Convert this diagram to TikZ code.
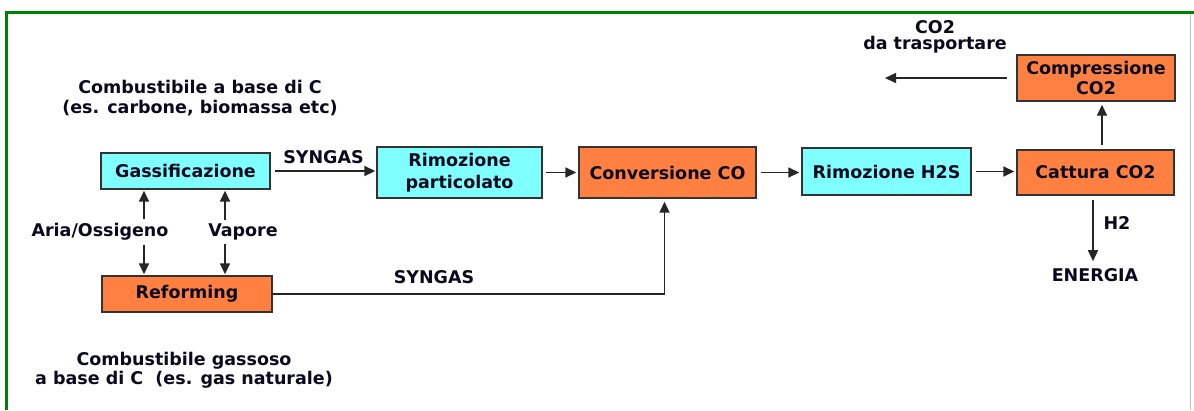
\documentclass[tikz,border=0pt]{standalone}
\usepackage{fontspec}
\setmainfont{DejaVu Sans}
\usetikzlibrary{arrows.meta,calc}
\definecolor{boxcyan}{RGB}{128,255,255}
\definecolor{boxorange}{RGB}{255,128,64}
\definecolor{framegreen}{RGB}{0,128,0}
\definecolor{txt}{RGB}{10,10,30}
\begin{document}
\begin{tikzpicture}[x=1pt,y=-1pt,
  font=\fontsize{17.5}{19.5}\selectfont\bfseries,
  every node/.style={text=txt},
  box/.style={draw=black!80,line width=1.4pt,inner sep=0pt,align=center},
  cbox/.style={box,fill=boxcyan},
  obox/.style={box,fill=boxorange},
  lbl/.style={inner sep=1pt,align=center},
  arr/.style={line width=1.6pt,draw=black!85,-{Triangle[length=11pt,width=10pt]}},
  darr/.style={line width=1.6pt,draw=black!85,{Triangle[length=11pt,width=10pt]}-{Triangle[length=11pt,width=10pt]}}]
\useasboundingbox (0,0) rectangle (1194,410);
\fill[white] (0,0) rectangle (1194,410);
% frame
\draw[framegreen,line width=3pt] (6.5,410) -- (6.5,12.5) -- (1194,12.5);
\draw[black!25,line width=1pt] (1190,14) -- (1190,410);
% boxes
\node[cbox,minimum width=169pt,minimum height=36pt] (g) at (185.5,171) {Gassificazione};
\node[obox,minimum width=170pt,minimum height=36pt] (r) at (187,294) {Reforming};
\node[cbox,minimum width=165pt,minimum height=51pt] (rp) at (459.5,172.5) {Rimozione\\[3pt]particolato};
\node[obox,minimum width=177pt,minimum height=51pt] (cv) at (667.5,172.5) {Conversione CO};
\node[cbox,minimum width=169pt,minimum height=47pt] (rh) at (886.5,171.5) {Rimozione H2S};
\node[obox,minimum width=157pt,minimum height=45pt] (ct) at (1095.5,172.5) {Cattura CO2};
\node[obox,minimum width=158pt,minimum height=46pt] (cp) at (1096,78) {Compressione\\CO2};
% free texts
\node[lbl] (t1) at (200,98) {Combustibile a base di C\\(es. carbone, biomassa etc)};
\node[lbl] (t2) at (184,370) {Combustibile gassoso\\a base di C~~(es. gas naturale)};
\node[lbl,font=\fontsize{17.5}{16}\selectfont\bfseries] (t3) at (935,37) {CO2\\da trasportare};
\node[lbl] (en) at (1095,275) {ENERGIA};
\node[lbl] (h2) at (1117,223) {H2};
\coordinate (co2out) at (885,78);
% connectors
\draw[arr,shorten <=4pt,shorten >=1pt] (g.east) -- (g.east -| rp.west) node[midway,above=5pt,lbl] (s1) {SYNGAS};
\draw[arr,shorten <=3pt,shorten >=2pt] (rp.east) -- (rp.east -| cv.west);
\draw[arr,shorten <=4pt,shorten >=2pt] (cv.east) -- (cv.east -| rh.west);
\draw[arr,shorten <=4pt,shorten >=2pt] (rh.east) -- (rh.east -| ct.west);
\draw[arr,shorten >=3pt] (r.east) -| ([xshift=-3pt]cv.south);
\node[lbl] (s2) at (434,277) {SYNGAS};
\draw[arr,shorten <=4pt,shorten >=3pt] ([xshift=6.5pt]ct.north) -- ([xshift=6pt]cp.south);
\draw[arr,shorten <=9pt] (cp.west) -- (cp.west -| co2out);
\draw[arr,shorten <=4pt,shorten >=6pt] ([xshift=-2.5pt]ct.south) -- ([xshift=-2pt]en.north);
\draw[darr,shorten <=1pt,shorten >=1pt] (g.south -| 144,0) -- (r.north -| 144,0);
\draw[darr,shorten <=1pt,shorten >=1pt] (g.south -| 225,0) -- (r.north -| 225,0);
\node[lbl,fill=white,inner ysep=4pt] (ao) at (100,232) {Aria/Ossigeno};
\node[lbl,fill=white,inner ysep=4pt] (va) at (243,232) {Vapore};
\end{tikzpicture}
\end{document}
